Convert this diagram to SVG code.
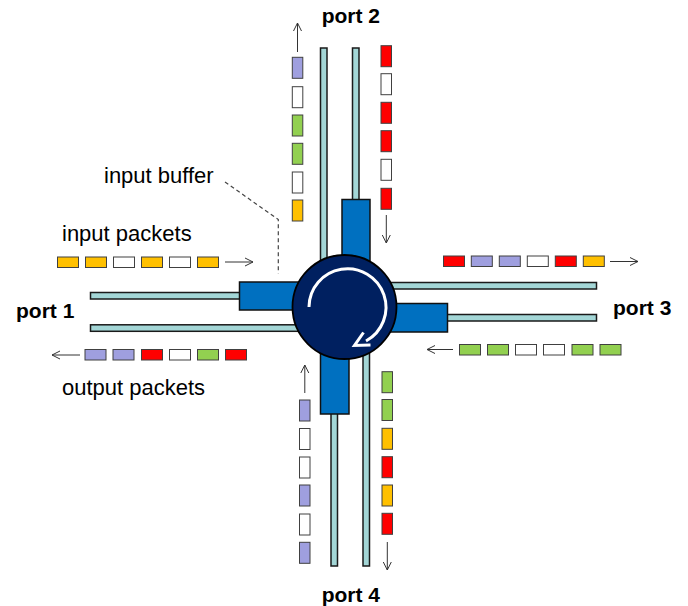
<svg xmlns="http://www.w3.org/2000/svg" width="688" height="606" viewBox="0 0 688 606">
<style>
.lbl{font-family:"Liberation Sans",Arial,sans-serif;font-size:22px;fill:#000}
.port{font-family:"Liberation Sans",Arial,sans-serif;font-size:21px;font-weight:bold;fill:#000}
.line{fill:#a3d6d6;stroke:#1a1a1a;stroke-width:1.5}
.buf{fill:#0070c0;stroke:#111;stroke-width:1.5}
.pk{stroke:#404040;stroke-width:1}
.o{fill:#ffc000}.r{fill:#ff0000}.l{fill:#9f9fdf}.g{fill:#92d050}.w{fill:#ffffff}
.arr{stroke:#333;stroke-width:1;fill:none;marker-end:url(#ah)}
</style>
<defs>
<marker id="ah" markerUnits="userSpaceOnUse" markerWidth="12" markerHeight="12" refX="9" refY="5" orient="auto">
<path d="M1,1 L9,5 L1,9" fill="none" stroke="#333" stroke-width="1"/>
</marker>
</defs>
<rect width="688" height="606" fill="#fff"/>

<g id="channels">
<rect class="line" x="320.5" y="48" width="6.5" height="220"/>
<rect class="line" x="352.5" y="48" width="6.5" height="160"/>
<rect class="line" x="331" y="400" width="6.5" height="166"/>
<rect class="line" x="363" y="340" width="6.5" height="226"/>
<rect class="line" x="90.5" y="292.5" width="160" height="6.5"/>
<rect class="line" x="90.5" y="324.8" width="220" height="6.5"/>
<rect class="line" x="370" y="282.5" width="226.5" height="6.5"/>
<rect class="line" x="430" y="314.5" width="166.5" height="6.5"/>
</g>

<g id="buffers">
<rect class="buf" x="342" y="199.5" width="28" height="70"/>
<rect class="buf" x="239.5" y="282" width="70" height="28"/>
<rect class="buf" x="378" y="303.5" width="69.5" height="28.5"/>
<rect class="buf" x="320.5" y="345" width="28.5" height="69"/>
</g>

<g id="switch">
<circle cx="344.5" cy="307" r="52" fill="#002060" stroke="#000" stroke-width="1.8"/>
<path d="M309,307 A38.5,38.5 0 1 1 366,341" fill="none" stroke="#fff" stroke-width="3"/>
<path d="M363.5,332.5 L354.5,345.5 L370.5,345" fill="none" stroke="#fff" stroke-width="3"/>
</g>

<g id="port1-packets">
<rect class="pk o" x="57.5" y="257" width="21" height="10.5"/>
<rect class="pk o" x="85.5" y="257" width="21" height="10.5"/>
<rect class="pk w" x="113.5" y="257" width="21" height="10.5"/>
<rect class="pk o" x="141.5" y="257" width="21" height="10.5"/>
<rect class="pk w" x="169.5" y="257" width="21" height="10.5"/>
<rect class="pk o" x="197.5" y="257" width="21" height="10.5"/>
<rect class="pk l" x="85" y="349.5" width="21" height="10.5"/>
<rect class="pk l" x="113" y="349.5" width="21" height="10.5"/>
<rect class="pk r" x="141.5" y="349.5" width="21" height="10.5"/>
<rect class="pk w" x="169.5" y="349.5" width="21" height="10.5"/>
<rect class="pk g" x="197.5" y="349.5" width="21" height="10.5"/>
<rect class="pk r" x="225.5" y="349.5" width="21" height="10.5"/>
</g>

<g id="port3-packets">
<rect class="pk r" x="443.5" y="256" width="21" height="10.5"/>
<rect class="pk l" x="471.3" y="256" width="21" height="10.5"/>
<rect class="pk l" x="499.3" y="256" width="21" height="10.5"/>
<rect class="pk w" x="527.3" y="256" width="21" height="10.5"/>
<rect class="pk r" x="555.3" y="256" width="21" height="10.5"/>
<rect class="pk o" x="583.3" y="256" width="21" height="10.5"/>
<rect class="pk g" x="459.5" y="344.5" width="21" height="10.5"/>
<rect class="pk g" x="487.5" y="344.5" width="21" height="10.5"/>
<rect class="pk w" x="515.5" y="344.5" width="21" height="10.5"/>
<rect class="pk w" x="543.5" y="344.5" width="21" height="10.5"/>
<rect class="pk g" x="572" y="344.5" width="21" height="10.5"/>
<rect class="pk g" x="600" y="344.5" width="21" height="10.5"/>
</g>

<g id="port2-packets">
<rect class="pk l" x="292.3" y="57.3" width="10.5" height="21"/>
<rect class="pk w" x="292.3" y="86.7" width="10.5" height="21"/>
<rect class="pk g" x="292.3" y="115" width="10.5" height="21"/>
<rect class="pk g" x="292.3" y="143.3" width="10.5" height="21"/>
<rect class="pk w" x="292.3" y="172" width="10.5" height="21"/>
<rect class="pk o" x="292.3" y="200" width="10.5" height="21"/>
<rect class="pk r" x="381" y="45.7" width="10.5" height="21"/>
<rect class="pk w" x="381" y="73.7" width="10.5" height="21"/>
<rect class="pk r" x="381" y="102.3" width="10.5" height="21"/>
<rect class="pk r" x="381" y="130.7" width="10.5" height="21"/>
<rect class="pk w" x="381" y="159.3" width="10.5" height="21"/>
<rect class="pk r" x="381" y="188.3" width="10.5" height="21"/>
</g>

<g id="port4-packets">
<rect class="pk l" x="299.5" y="400" width="10.5" height="21"/>
<rect class="pk w" x="299.5" y="428.5" width="10.5" height="21"/>
<rect class="pk w" x="299.5" y="457" width="10.5" height="21"/>
<rect class="pk l" x="299.5" y="485" width="10.5" height="21"/>
<rect class="pk w" x="299.5" y="514" width="10.5" height="21"/>
<rect class="pk l" x="299.5" y="542.3" width="10.5" height="21"/>
<rect class="pk g" x="382" y="371.7" width="10.5" height="21"/>
<rect class="pk g" x="382" y="399.5" width="10.5" height="21"/>
<rect class="pk o" x="382" y="428.3" width="10.5" height="21"/>
<rect class="pk r" x="382" y="456.7" width="10.5" height="21"/>
<rect class="pk o" x="382" y="485" width="10.5" height="21"/>
<rect class="pk r" x="382" y="513.3" width="10.5" height="21"/>
</g>

<g id="connectors">
<line class="arr" x1="225" y1="262" x2="253" y2="262"/>
<line class="arr" x1="80" y1="355" x2="52" y2="355"/>
<line class="arr" x1="610" y1="261.5" x2="638" y2="261.5"/>
<line class="arr" x1="453" y1="349.5" x2="427" y2="349.5"/>
<line class="arr" x1="297.5" y1="52" x2="297.5" y2="23"/>
<line class="arr" x1="386.3" y1="215" x2="386.3" y2="243"/>
<line class="arr" x1="304.8" y1="393" x2="304.8" y2="365"/>
<line class="arr" x1="387.3" y1="542" x2="387.3" y2="570"/>
<polyline points="225,182 278.3,219.5 278.3,273.5" fill="none" stroke="#444" stroke-width="1.2" stroke-dasharray="4,3"/>
</g>

<g id="labels">
<text class="port" x="16" y="318">port 1</text>
<text class="port" x="321.7" y="22.5">port 2</text>
<text class="port" x="613" y="315">port 3</text>
<text class="port" x="321.7" y="601.5">port 4</text>
<text class="lbl" x="104" y="182.5">input buffer</text>
<text class="lbl" x="62" y="241">input packets</text>
<text class="lbl" x="62" y="394.5">output packets</text>
</g>
</svg>
